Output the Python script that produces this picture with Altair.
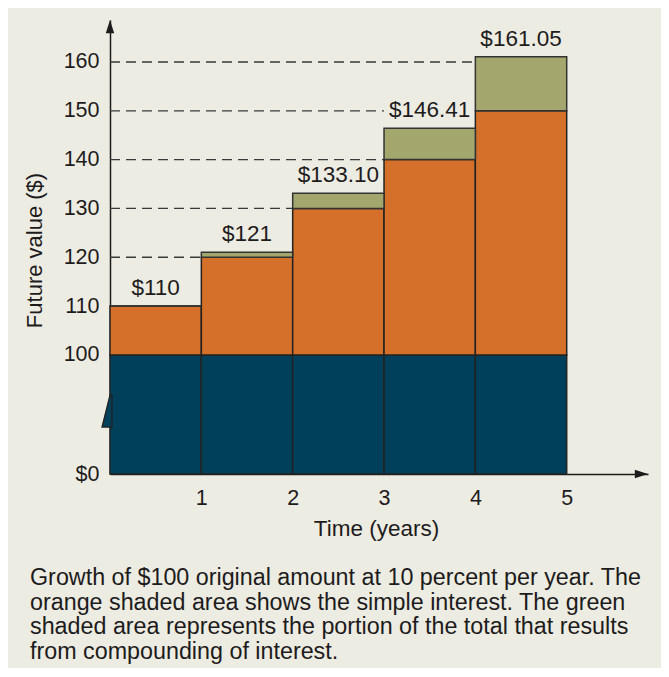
import altair as alt
import pandas as pd

# ---- data ----
years = [1, 2, 3, 4, 5]
principal = 100
simple_values = [110, 120, 130, 140, 150]
compound_values = [110, 121, 133.10, 146.41, 161.05]
value_labels = ["$110", "$121", "$133.10", "$146.41", "$161.05"]
grid_levels = [120, 130, 140, 150, 160]
grid_ends = [1, 2, 3, 3, 4]
y_ticks = [100, 110, 120, 130, 140, 150, 160]
x_ticks = [1, 2, 3, 4, 5]
caption_lines = [
    "Growth of $100 original amount at 10 percent per year. The",
    "orange shaded area shows the simple interest. The green",
    "shaded area represents the portion of the total that results",
    "from compounding of interest.",
]

# broken axis: where "$0" is drawn on the display scale
ZERO = 75.6
YMAX = 168.6
XMAX = 5.89
BREAK_AT = 88.5

FONT = "Liberation Sans"
INK = "#1d1b1c"
BG = "#edece2"
BLUE = "#00405a"
ORANGE = "#d5702b"
GREEN = "#a3a76d"

bars = pd.DataFrame({
    "year": years,
    "start": [y - 1 for y in years],
    "principal": [principal] * len(years),
    "zero": [ZERO] * len(years),
    "simple": simple_values,
    "compound": compound_values,
    "label": value_labels,
    "mid": [y - 0.5 for y in years],
})
grid = pd.DataFrame({"level": grid_levels, "end": grid_ends, "x0": [0] * len(grid_levels)})

xs = alt.Scale(domain=[0, XMAX], nice=False, zero=False)
ys = alt.Scale(domain=[ZERO, YMAX], nice=False, zero=False)

x_axis = alt.Axis(values=x_ticks, format="d", ticks=False, grid=False, labelFontSize=21.5, labelFont=FONT,
                  labelColor=INK, labelPadding=13, domainColor=INK, domainWidth=1.5,
                  title="Time (years)", titleFont=FONT, titleFontSize=22.5, titleFontWeight="normal",
                  titleColor=INK, titleX=266, titleY=54, titleBaseline="middle", titleAlign="center",
                  labelAngle=0)
y_axis = alt.Axis(values=[ZERO] + y_ticks, ticks=False, grid=False, labelFontSize=21.5, labelFont=FONT,
                  labelColor=INK, labelPadding=11, domainColor=INK, domainWidth=1.5,
                  labelExpr="datum.value < 100 ? '$0' : datum.label", format="d",
                  title="Future value ($)", titleFont=FONT, titleFontSize=22, titleFontWeight="normal",
                  titleColor=INK, titleX=-76, titleY=230, titleAngle=-90, titleBaseline="middle",
                  titleAlign="center")

base = alt.Chart(bars)

gridlines = alt.Chart(grid).mark_rule(strokeDash=[10, 6], color="#3a3a3a", strokeWidth=1.3).encode(
    x=alt.X("x0:Q", scale=xs, axis=x_axis),
    x2="end:Q",
    y=alt.Y("level:Q", scale=ys, axis=y_axis),
)

blue = base.mark_rect(fill=BLUE, stroke="#222", strokeWidth=1.5).encode(
    x=alt.X("start:Q", scale=xs), x2="year:Q",
    y=alt.Y("zero:Q", scale=ys), y2="principal:Q")
orange = base.mark_rect(fill=ORANGE, stroke="#222", strokeWidth=1.5).encode(
    x=alt.X("start:Q", scale=xs), x2="year:Q",
    y=alt.Y("principal:Q", scale=ys), y2="simple:Q")
green = base.mark_rect(fill=GREEN, stroke="#333", strokeWidth=1.5).encode(
    x=alt.X("start:Q", scale=xs), x2="year:Q",
    y=alt.Y("simple:Q", scale=ys), y2="compound:Q")

labels = base.mark_text(font=FONT, fontSize=22.5, color=INK, dy=-18, baseline="middle").encode(
    x=alt.X("mid:Q", scale=xs), y=alt.Y("compound:Q", scale=ys), text="label:N")

notch = alt.Chart(pd.DataFrame({"x": [0], "y": [BREAK_AT]})).mark_point(
    shape="M0.12,-1 L0,-1 L-0.5,1 L0,1 L0.12,1 Z", size=1024, filled=True, fill=BLUE,
    stroke="#222", strokeWidth=1.3, opacity=1).encode(
    x=alt.X("x:Q", scale=xs), y=alt.Y("y:Q", scale=ys))

up_arrow = alt.Chart(pd.DataFrame({"x": [0], "y": [YMAX]})).mark_point(
    shape="M0,0 L-0.7,2.2 L0.7,2.2 Z", size=144, filled=True, fill=INK, opacity=1, strokeWidth=0).encode(
    x=alt.X("x:Q", scale=xs), y=alt.Y("y:Q", scale=ys))
right_arrow = alt.Chart(pd.DataFrame({"x": [XMAX], "y": [ZERO]})).mark_point(
    shape="M0,0 L-2.2,-0.7 L-2.2,0.7 Z", size=144, filled=True, fill=INK, opacity=1, strokeWidth=0).encode(
    x=alt.X("x:Q", scale=xs), y=alt.Y("y:Q", scale=ys))

caption = alt.Chart(pd.DataFrame({"c": [0]})).mark_text(
    text=caption_lines, font=FONT, fontSize=23.3, color=INK, align="left", baseline="middle",
    lineHeight=24.5).encode(x=alt.value(-80), y=alt.value(558))

chart = alt.layer(gridlines, blue, orange, green, labels, notch, up_arrow, right_arrow, caption).properties(
    width=538, height=454,
    padding={"left": 102, "top": 12, "right": 13, "bottom": 194},
    autosize=alt.AutoSizeParams(type="none"),
    background=BG,
).configure_view(stroke=None)

chart.save("out.html", embed_options={"renderer": "svg", "actions": False})
